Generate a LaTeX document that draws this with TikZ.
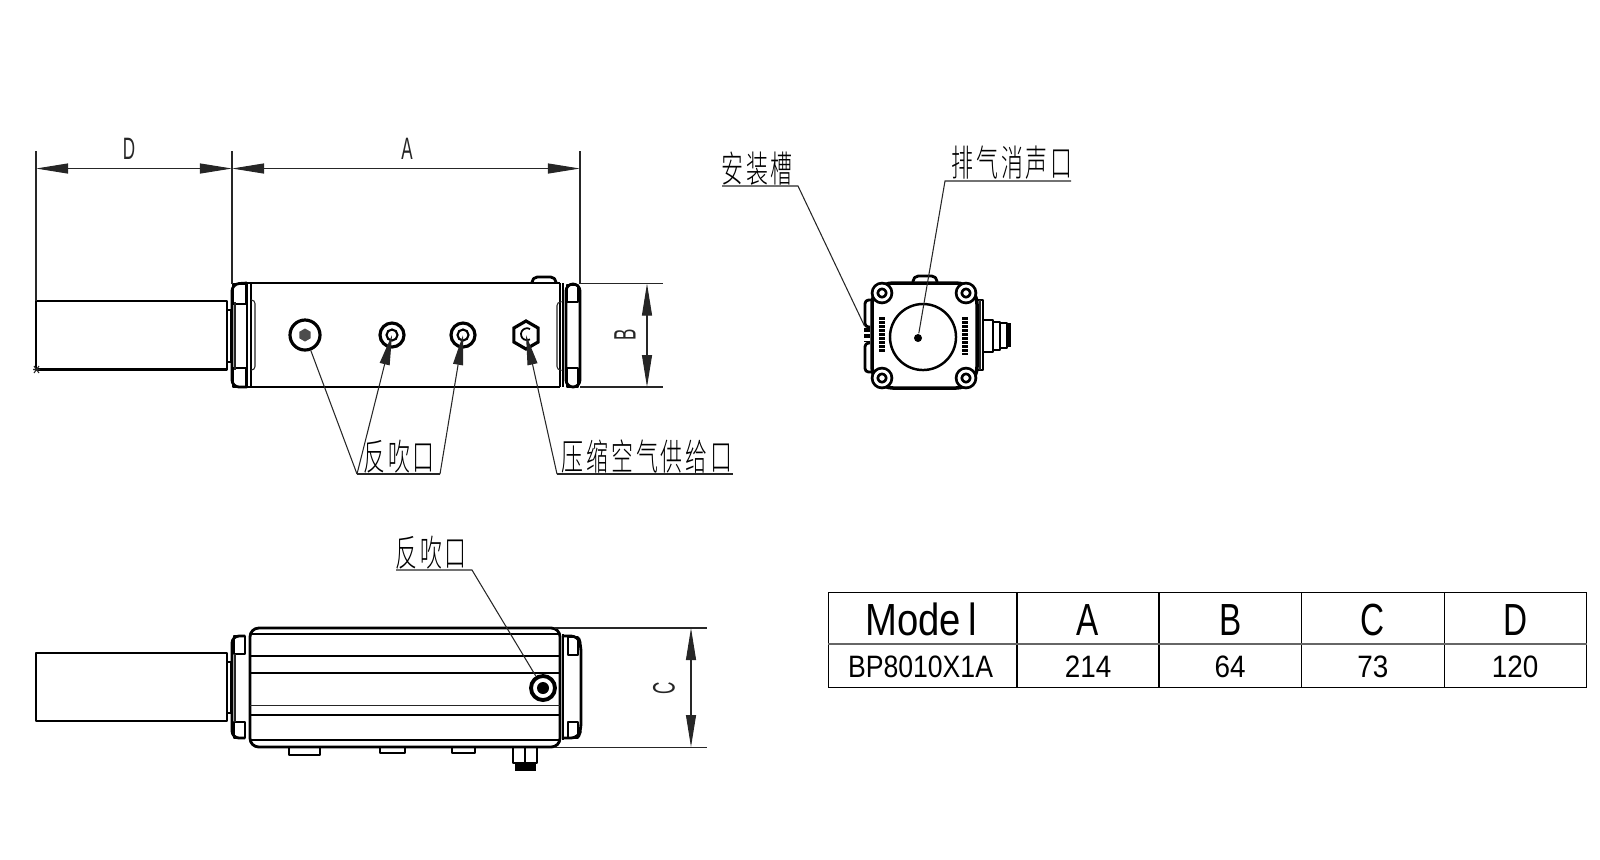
\documentclass[tikz,border=0pt]{standalone}
\usepackage{fontspec}
\setmainfont{Liberation Sans}
\newfontfamily\cjk{Noto Sans CJK SC Light}[LetterSpace=13.5]
\usetikzlibrary{arrows.meta,shapes.geometric}
\newcommand{\cjktext}[1]{\scalebox{.6}[1]{\cjk #1}}
\newcommand{\dimtext}[1]{\scalebox{.55}[1]{#1}}
\newcommand{\celltext}[2]{\scalebox{#1}[1]{#2}}
\begin{document}
\begin{tikzpicture}[x=.01cm,y=-.01cm,>={Triangle[length=.32cm,width=.1cm]}]
    \tikzstyle{outline} = [line width=.8pt, line join=round]
    \tikzstyle{thinline} = [line width=.3pt, black!85]
    \tikzstyle{dimline} = [<->, line width=.3pt, black!85]
    \tikzstyle{leader} = [line width=.3pt, black!85]
    \tikzstyle{leadtip} = [-{Triangle[length=.3cm,width=.1cm]}, line width=.3pt, black!85]
    \tikzstyle{cjklabel} = [font=\fontsize{10.4pt}{11pt}\selectfont, inner sep=0pt]
    \tikzstyle{dimlabel} = [font=\fontsize{8.8pt}{9pt}\selectfont, inner sep=0pt, black!85]
    \tikzstyle{portring} = [circle, draw, line width=.9pt, fill=white, inner sep=0pt]
    \tikzstyle{bolt} = [circle, draw, line width=.8pt, double, double distance=.8pt, inner sep=0pt, minimum size=.14cm]
    \tikzstyle{headcell} = [rectangle, draw, line width=.3pt, inner sep=0pt, minimum height=.51cm, text height=9.8pt, text depth=0pt, font=\fontsize{12.8pt}{14pt}\selectfont]
    \tikzstyle{bodycell} = [rectangle, draw, line width=.3pt, inner sep=0pt, minimum height=.436cm, text height=7pt, text depth=0pt, font=\fontsize{8.8pt}{9pt}\selectfont]

    \useasboundingbox (0,0) rectangle (1600,859);

    % Top view, tube
    \draw[outline] (36,301) rectangle (227,369.5);
    \draw[outline] (227,310) rectangle (231,362);
    \draw[thinline] (34,366) -- (39,373) (39,366) -- (34,373) (33,369.5) -- (40,369.5);

    % Top view, left cap
    \draw[outline, rounded corners=2pt] (247,283) -- (232,284) -- (232,387) -- (247,387);
    \draw[outline] (233,284) rectangle (246,304);
    \draw[outline] (233,368) rectangle (246,387);
    \draw[thinline] (235,302) -- (235,370);

    % Top view, body
    \draw[outline] (247,283) -- (560,283) (247,387) -- (560,387);
    \draw[outline] (247,283) -- (247,387) (251,283) -- (251,387);
    \draw[outline] (560,283) -- (560,387) (563,283) -- (563,387);
    \draw[thinline, rounded corners=1pt] (251,300) -- (255,300) -- (255,370) -- (251,370);
    \draw[thinline, rounded corners=1pt] (560,302) -- (557,302) -- (557,370) -- (560,370);
    \draw[outline, rounded corners=1.5pt] (532,283) -- (532,277) -- (556,277) -- (556,283);

    % Top view, right cap
    \draw[outline, rounded corners=2pt] (566,284) -- (580,284) -- (580,387) -- (566,387) -- cycle;
    \draw[outline] (567,285) rectangle (578,302);
    \draw[outline] (567,368) rectangle (578,387);

    % Ports
    \node[portring, minimum size=.3cm] (port1) at (305,335) {};
    \node[regular polygon, regular polygon sides=6, shape border rotate=30, fill=black!70, inner sep=0pt, minimum size=.13cm] at (port1) {};
    \node[portring, minimum size=.24cm] (port2) at (392,335) {};
    \node[circle, draw, line width=.6pt, inner sep=0pt, minimum size=.11cm] at (port2) {};
    \node[portring, minimum size=.24cm] (port3) at (463,335) {};
    \node[circle, draw, line width=.6pt, inner sep=0pt, minimum size=.11cm] at (port3) {};
    \node[regular polygon, regular polygon sides=6, shape border rotate=30, draw, line width=.9pt, inner sep=0pt, minimum size=.28cm] (port4) at (526,335) {};
    \draw[line width=.5pt] (530,329) arc[start angle=-60, end angle=-300, radius=6];

    % Top view dimensions
    \coordinate (dleft) at (36,168.5);
    \coordinate (dmid) at (232,168.5);
    \coordinate (dright) at (580,168.5);
    \coordinate (btop) at (647,283.5);
    \coordinate (bbot) at (647,387);
    \draw[thinline] (36,151) -- (36,301);
    \draw[thinline] (232,151) -- (232,284);
    \draw[thinline] (580,151) -- (580,284);
    \draw[thinline] (580,283.5) -- (663,283.5);
    \draw[thinline] (580,387) -- (663,387);
    \draw[dimline] (dleft) -- (dmid);
    \draw[dimline] (dmid) -- (dright);
    \draw[dimline] (btop) -- (bbot);
    \node[dimlabel] (labd) at (129,149) {\dimtext{D}};
    \node[dimlabel] (laba) at (407,149) {\dimtext{A}};
    \node[dimlabel, rotate=90] (labb) at (625,335) {\dimtext{B}};

    % Top view labels
    \node[cjklabel] (blow) at (399,457) {\cjktext{反吹口}};
    \node[cjklabel] (supply) at (647,457) {\cjktext{压缩空气供给口}};
    \coordinate (blowleft) at (357,474);
    \coordinate (blowright) at (440,474);
    \coordinate (supplyleft) at (557,474);
    \coordinate (supplyright) at (733,474);
    \draw[leader] (port1) -- (blowleft);
    \draw[leadtip] (blowleft) -- (port2.center);
    \draw[leadtip] (blowright) -- (port3.center);
    \draw[leadtip] (supplyleft) -- (port4.center);
    \draw[leader] (blowleft) -- (blowright);
    \draw[leader] (supplyleft) -- (supplyright);

    % End view
    \draw[outline, rounded corners=6pt, line width=1pt] (872,283) rectangle (977,388);
    \draw[outline, rounded corners=1.5pt] (913,283) -- (913,276) -- (937,276) -- (937,283);
    \node[circle, draw, line width=.7pt, inner sep=0pt, minimum size=.66cm] (silencer) at (923,337) {};
    \node[circle, fill=black, inner sep=0pt, minimum size=.08cm] (silencerdot) at (918,338) {};
    \node[bolt] (bolta) at (882,293) {};
    \node[bolt] (boltb) at (966,293) {};
    \node[bolt] (boltc) at (882,378) {};
    \node[bolt] (boltd) at (966,378) {};
    \draw[line width=1.6pt, dash pattern=on .8pt off .35pt] (882,317) -- (882,353);
    \draw[line width=1.6pt, dash pattern=on .8pt off .35pt] (965,317) -- (965,355);
    \draw[outline, rounded corners=1pt] (872,300) -- (865,300) -- (865,327) -- (870,327);
    \draw[outline, rounded corners=1pt] (870,343) -- (865,343) -- (865,372) -- (872,372);
    \draw[line width=1.5pt, dash pattern=on 1pt off .8pt] (867,328) -- (867,342);
    \draw[outline] (977,300) rectangle (983,370);
    \draw[thinline] (980,300) -- (980,370);
    \draw[outline] (983,320) rectangle (993,352);
    \draw[outline] (993,322) rectangle (1000,350);
    \draw[outline] (1000,323) rectangle (1007,348);
    \draw[line width=1.1pt] (1009,323) -- (1009,347);

    % End view labels
    \node[cjklabel] (slot) at (757,169) {\cjktext{安装槽}};
    \node[cjklabel] (exhaust) at (1012,163) {\cjktext{排气消声口}};
    \node[circle, inner sep=0pt, minimum size=.01cm] (slotend) at (865,327) {};
    \coordinate (slotleft) at (722,186);
    \coordinate (slotright) at (798,186);
    \coordinate (exhleft) at (945,181);
    \coordinate (exhright) at (1071,181);
    \draw[leader] (slotleft) -- (slotright) -- (slotend);
    \draw[leader] (exhright) -- (exhleft) -- (silencerdot);

    % Side view, tube and caps
    \draw[outline] (36,653) rectangle (227,721);
    \draw[outline] (227,662) rectangle (231,713);
    \draw[outline, rounded corners=2pt] (245,636) -- (232,636) -- (232,738) -- (245,738);
    \draw[outline] (234,636) rectangle (245,654);
    \draw[outline] (234,722) rectangle (245,738);
    \draw[thinline] (235,654) -- (235,722);

    % Side view, body
    \draw[outline, rounded corners=2.5pt] (250,628) rectangle (560,747);
    \draw[outline] (250,634) -- (560,634);
    \draw[outline] (250,656) -- (560,656);
    \draw[outline] (250,673) -- (560,673);
    \draw[thinline] (250,705) -- (560,705);
    \draw[outline] (250,715) -- (560,715);
    \draw[line width=.5pt] (250,740) -- (560,740);
    \draw[outline] (289,747) rectangle (320,755);
    \draw[outline] (380,747) rectangle (405,753);
    \draw[outline] (452,747) rectangle (475,753);
    \draw[outline] (513,747) rectangle (537,763);
    \draw[outline] (525,747) -- (525,763);
    \fill (515,763) rectangle (536,771);

    % Side view, right cap
    \draw[outline] (563,634) -- (563,740);
    \draw[outline] (568,637) rectangle (578,655);
    \draw[outline] (568,722) rectangle (578,738);
    \draw[outline, rounded corners=2pt] (563,636) -- (578,636) -- (581,645) -- (581,730) -- (578,738) -- (563,738);

    % Side view port and dimension
    \node[portring, line width=1.1pt, minimum size=.24cm] (port5) at (543,688) {};
    \node[circle, fill=black, inner sep=0pt, minimum size=.12cm] at (port5) {};
    \coordinate (ctop) at (691,628);
    \coordinate (cbot) at (691,747);
    \draw[thinline] (555,628) -- (707,628);
    \draw[thinline] (555,747) -- (707,747);
    \draw[dimline] (ctop) -- (cbot);
    \node[dimlabel, rotate=90] (labc) at (664,688) {\dimtext{C}};
    \node[cjklabel] (blowside) at (431,553) {\cjktext{反吹口}};
    \coordinate (sideleft) at (396,570);
    \coordinate (sideright) at (472,570);
    \draw[leader] (sideleft) -- (sideright) -- (port5);

    % Table
    \node[headcell, minimum width=1.88cm] (hmodel) at (923,618.2) {\hspace*{-1pt}\celltext{.85}{Mode\hspace{2.5pt}l}};
    \node[headcell, minimum width=1.42cm] (ha) at (1088,618.2) {\celltext{.74}{A}};
    \node[headcell, minimum width=1.423cm] (hb) at (1230.2,618.2) {\celltext{.74}{B}};
    \node[headcell, minimum width=1.43cm] (hc) at (1372.8,618.2) {\celltext{.74}{C}};
    \node[headcell, minimum width=1.417cm] (hd) at (1515.2,618.2) {\celltext{.74}{D}};
    \node[bodycell, minimum width=1.88cm] (bmodel) at (923,665.5) {\hspace*{-1.4pt}\celltext{.86}{BP8010X1A}};
    \node[bodycell, minimum width=1.42cm] (ba) at (1088,665.5) {\celltext{.9}{214}};
    \node[bodycell, minimum width=1.423cm] (bb) at (1230.2,665.5) {\celltext{.9}{64}};
    \node[bodycell, minimum width=1.43cm] (bc) at (1372.8,665.5) {\celltext{.9}{73}};
    \node[bodycell, minimum width=1.417cm] (bd) at (1515.2,665.5) {\celltext{.9}{120}};
    \draw[line width=.6pt, black!60] (hmodel.south west) -- (hd.south east);
\end{tikzpicture}
\end{document}
